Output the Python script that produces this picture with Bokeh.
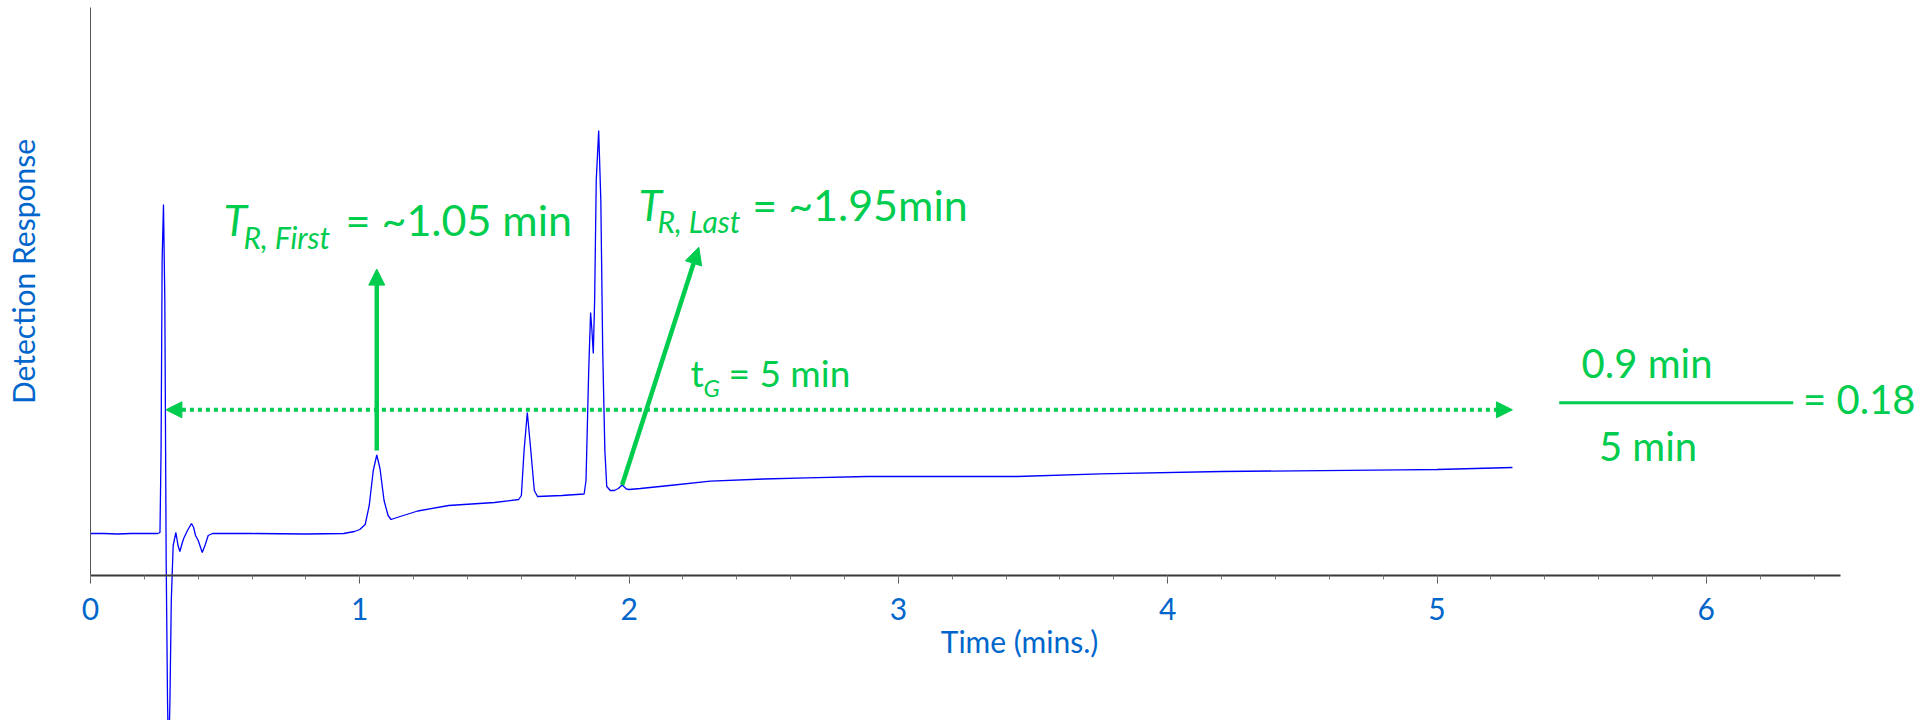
import numpy as np
from bokeh.plotting import figure
from bokeh.models import (Range1d, LinearAxis, SingleIntervalTicker, FixedTicker,
                          Label, Arrow, NormalHead)
from bokeh.embed import file_html
from bokeh.resources import INLINE

# ---------------- data ----------------
time_min = [0.0, 0.05, 0.1, 0.15, 0.2, 0.25, 0.258, 0.262, 0.266, 0.271, 0.276, 0.281,
            0.286, 0.29, 0.295, 0.300, 0.307, 0.317, 0.325, 0.332, 0.34, 0.346, 0.36,
            0.375, 0.383, 0.39, 0.40, 0.415, 0.425, 0.437, 0.453, 0.6, 0.8, 0.94, 0.98,
            1.0, 1.02, 1.035, 1.05, 1.063, 1.075, 1.09, 1.105, 1.116, 1.15, 1.215, 1.33,
            1.5, 1.59, 1.6, 1.61, 1.622, 1.635, 1.648, 1.66, 1.75, 1.833, 1.84, 1.85,
            1.857, 1.862, 1.867, 1.872, 1.878, 1.887, 1.895, 1.902, 1.91, 1.917, 1.93,
            1.945, 1.96, 1.974, 1.99, 2.0, 2.042, 2.15, 2.302, 2.5, 2.66, 2.883, 3.44,
            3.75, 4.2, 4.865, 5.0, 5.28]
response = [4.2, 4.2, 4.15, 4.2, 4.2, 4.2, 4.3, 12.5, 31.5, 37.1, 27.5, 1.5,
            -12.5, -18.5, -12.5, -2.5, 3.0, 4.3, 3.0, 2.4, 3.2, 3.7, 4.5,
            5.2, 4.8, 4.0, 3.5, 2.3, 3.0, 4.0, 4.2, 4.2, 4.15, 4.2, 4.4,
            4.6, 5.1, 7.0, 10.5, 12.05, 10.7, 7.5, 6.0, 5.6, 5.9, 6.45, 7.0,
            7.3, 7.6, 8.0, 12.5, 16.3, 12.5, 8.5, 7.9, 8.0, 8.15, 9.5, 20.5,
            26.3, 24.5, 22.2, 27.5, 39.5, 44.5, 37.5, 22.5, 12.5, 8.9, 8.5,
            8.5, 8.7, 9.05, 8.65, 8.6, 8.7, 9.0, 9.43, 9.65, 9.77, 9.9, 9.9,
            10.17, 10.4, 10.57, 10.6, 10.8]

x_ticks_major = [0, 1, 2, 3, 4, 5, 6]
t_inject = 0.28          # start of gradient (injection spike)
gradient_time = 5.0      # tG
tr_first_window = (1.0, 1.2)
tr_last_marker = 1.974   # end of last eluting peak
frac_num = "0.9 min"
frac_den = "5 min"
frac_res = "= 0.18"

GREEN = "#00CC4E"
BLUE_TXT = "#0066CC"
FONT = "Lato"

p = figure(width=1924, height=720, output_backend="svg", toolbar_location=None,
           x_range=Range1d(-0.3342, 6.8102), y_range=Range1d(-14.5, 57.5),
           x_axis_location=None, y_axis_location=None, min_border=0)
p.outline_line_color = None
p.background_fill_color = "white"
p.border_fill_color = "white"
for g in p.grid:
    g.visible = False

# axes placed inside the frame so the trace can dip below the time axis
xaxis = LinearAxis(fixed_location=0, bounds=(0, 6.5),
                   ticker=SingleIntervalTicker(interval=1, num_minor_ticks=5))
xaxis.axis_line_color = "#3a3a3a"
xaxis.axis_line_width = 2
xaxis.major_tick_out = 8
xaxis.major_tick_in = 0
xaxis.minor_tick_out = 4
xaxis.minor_tick_in = 0
xaxis.major_tick_line_color = "#555555"
xaxis.minor_tick_line_color = "#777777"
xaxis.major_label_text_font = FONT
xaxis.major_label_text_font_size = "30px"
xaxis.major_label_text_color = BLUE_TXT
xaxis.major_label_standoff = 14
p.add_layout(xaxis, "below")

yaxis = LinearAxis(fixed_location=0, bounds=(0, 56.8), ticker=FixedTicker(ticks=[]))
yaxis.axis_line_color = "#555555"
yaxis.axis_line_width = 1
yaxis.major_tick_out = 0
yaxis.major_tick_in = 0
yaxis.minor_tick_out = 0
yaxis.minor_tick_in = 0
yaxis.major_label_text_font_size = "0px"
p.add_layout(yaxis, "left")

# chromatogram trace
p.line(time_min, response, line_color="#0000FF", line_width=1.3)

# axis titles
p.add_layout(Label(x=3.4497, y=-6.51, text="Time (mins.)", text_font=FONT,
                   text_font_size="30px", text_color=BLUE_TXT,
                   text_align="center", text_baseline="alphabetic"))
p.add_layout(Label(x=-0.251, y=30.4, text="Detection Response", text_font=FONT,
                   text_font_size="30px", text_color=BLUE_TXT, angle=np.pi / 2,
                   text_align="center", text_baseline="alphabetic"))

# first-peak arrow (from apex of first eluting peak)
t_arr = np.array(time_min)
r_arr = np.array(response)
m = (t_arr >= tr_first_window[0]) & (t_arr <= tr_first_window[1])
i_apex = np.argmax(np.where(m, r_arr, -1e9))
p.add_layout(Arrow(x_start=float(t_arr[i_apex]), y_start=float(r_arr[i_apex]) + 0.45,
                   x_end=float(t_arr[i_apex]), y_end=30.64,
                   line_color=GREEN, line_width=4.5,
                   end=NormalHead(size=16, fill_color=GREEN, line_color=GREEN)))

# last-peak arrow
i_last = time_min.index(tr_last_marker)
p.add_layout(Arrow(x_start=tr_last_marker, y_start=response[i_last],
                   x_end=2.2588, y_end=32.83,
                   line_color=GREEN, line_width=4.5,
                   end=NormalHead(size=17, fill_color=GREEN, line_color=GREEN)))

# gradient-time dotted double arrow
p.add_layout(Arrow(x_start=t_inject, y_start=16.57,
                   x_end=t_inject + gradient_time, y_end=16.57,
                   line_color=GREEN, line_width=4, line_dash="4 4",
                   start=NormalHead(size=16, fill_color=GREEN, line_color=GREEN),
                   end=NormalHead(size=16, fill_color=GREEN, line_color=GREEN)))

# fraction bar
p.add_layout(Arrow(x_start=5.4538, y_start=17.27, x_end=6.3227, y_end=17.27,
                   line_color=GREEN, line_width=3, start=None, end=None))


def lab(text, x, y, size, italic=False, align="left"):
    p.add_layout(Label(x=x, y=y, text=text, text_font=FONT,
                       text_font_size=f"{size}px",
                       text_font_style="italic" if italic else "normal",
                       text_color=GREEN, text_align=align,
                       text_baseline="alphabetic"))


lab("T", 0.4939, 35.64, 43, italic=True)
lab("R, First", 0.5681, 33.83, 30, italic=True)
lab("= ~1.05 min", 0.9469, 35.64, 43)

lab("T", 2.0349, 37.14, 43, italic=True)
lab("R, Last", 2.1054, 35.43, 30, italic=True)
lab("= ~1.95min", 2.4571, 37.14, 43)

lab("t", 2.2280, 20.32, 37)
lab("G", 2.2763, 18.84, 24, italic=True)
lab("= 5 min", 2.3691, 20.32, 37)

lab(frac_num, 5.7798, 21.25, 40, align="center")
lab(frac_den, 5.7835, 12.91, 40, align="center")
lab(frac_res, 6.7769, 17.68, 40, align="right")

open("out.html", "w").write(file_html(p, INLINE))
